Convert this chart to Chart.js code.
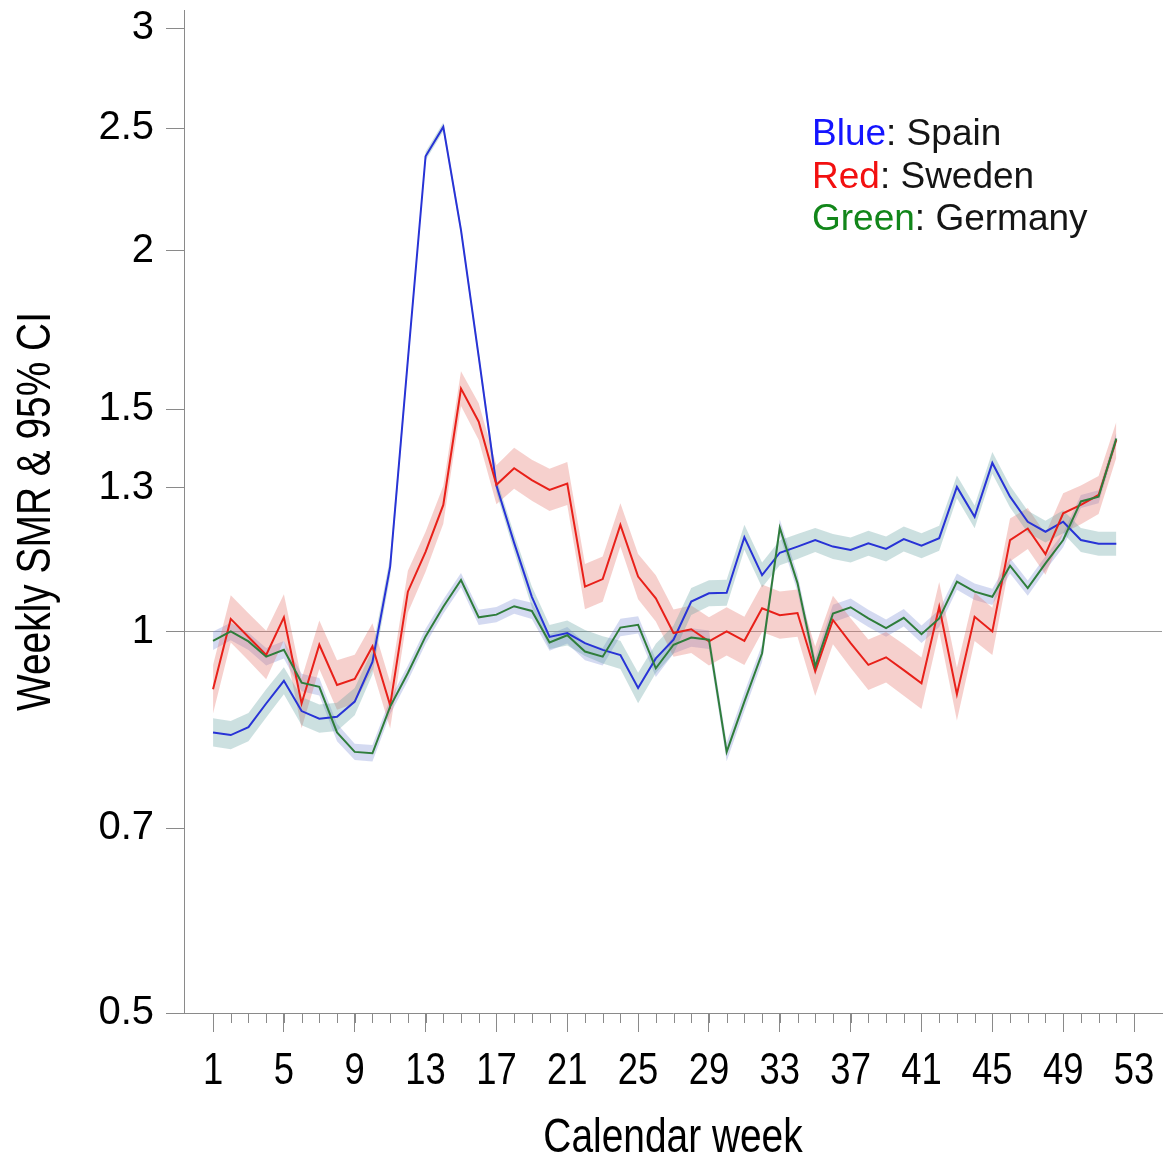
<!doctype html>
<html lang="en">
<head>
  <meta charset="UTF-8" />
  <title>Weekly SMR</title>
  <script src="https://cdn.jsdelivr.net/npm/chart.js"></script>
  <style>
    html, body { margin: 0; padding: 0; background: #fff; }
    #wrap { position: relative; width: 1175px; height: 1154px; }
    #legend {
      position: absolute; left: 812px; top: 112px;
      font: 37px "Liberation Sans", Arial, sans-serif; line-height: 42.5px; color: #151515;
      white-space: nowrap;
    }
  </style>
</head>
<body>
  <div id="wrap">
    <canvas id="smrChart" width="1175" height="1154"></canvas>
    <div id="legend"></div>
  </div>

  <script>
    // calendar weeks 1..52
    const weeks = [1,2,3,4,5,6,7,8,9,10,11,12,13,14,15,16,17,18,19,20,21,22,23,24,25,26,
      27,28,29,30,31,32,33,34,35,36,37,38,39,40,41,42,43,44,45,46,47,48,49,50,51,52];

    const spain = [0.833,0.829,0.841,0.878,0.915,0.866,0.854,0.857,0.881,0.947,
      1.126,1.64,2.376,2.506,2.077,1.65,1.305,1.176,1.066,0.991,
      0.998,0.980,0.968,0.959,0.903,0.953,0.986,1.057,1.073,1.074,
      1.188,1.109,1.155,1.168,1.182,1.168,1.161,1.175,1.163,1.184,
      1.170,1.186,1.302,1.233,1.360,1.279,1.222,1.200,1.222,1.182,1.174,1.174];
    const sweden = [0.901,1.024,0.991,0.959,1.027,0.878,0.977,0.908,0.918,0.974,
      0.875,1.076,1.157,1.26,1.557,1.466,1.307,1.347,1.318,1.295,
      1.31,1.086,1.101,1.215,1.106,1.063,0.998,1.005,0.983,1.001,
      0.984,1.044,1.031,1.035,0.931,1.022,0.980,0.942,0.955,0.933,
      0.911,1.047,0.893,1.028,1.001,1.182,1.207,1.152,1.241,1.26,1.283,1.418];
    const germany = [0.984,1.001,0.983,0.956,0.968,0.912,0.905,0.833,0.804,0.802,
      0.873,0.928,0.992,1.047,1.099,1.027,1.032,1.048,1.039,0.981,
      0.994,0.965,0.956,1.008,1.013,0.936,0.977,0.990,0.986,0.804,
      0.881,0.962,1.209,1.093,0.939,1.034,1.046,1.025,1.007,1.026,
      0.996,1.025,1.096,1.076,1.066,1.128,1.083,1.133,1.182,1.268,1.279,1.422];

    // 95% CI half-widths, percent of SMR
    const spainCI = [2.6,2.6,2.6,2.6,2.5,2.6,2.6,2.6,2.5,2.3,
      1.8,1.2,0.8,0.8,0.9,1.0,1.3,1.6,1.9,2.2,
      2.3,2.4,2.5,2.6,2.8,2.7,2.6,2.5,2.4,2.4,
      2.3,2.3,2.3,2.3,2.2,2.3,2.3,2.3,2.3,2.3,
      2.3,2.3,2.1,2.1,2.0,2.0,2.0,2.0,2.1,2.2,2.2,2.2];
    const swedenCI = [4.5,4.4,4.4,4.5,4.3,4.6,4.5,4.6,4.5,4.3,
      4.3,3.9,3.7,3.5,3.2,3.4,3.6,3.8,3.8,3.9,
      4.0,4.2,4.2,4.0,4.2,4.3,4.4,4.4,4.5,4.5,
      4.5,4.4,4.4,4.4,4.6,4.5,4.6,4.7,4.7,4.8,
      4.8,4.6,4.9,4.5,4.4,4.0,3.8,3.8,3.7,3.6,3.5,3.3];
    const germanyCI = [1.7,1.6,1.6,1.6,1.6,1.6,1.6,1.6,1.5,1.5,
      1.4,1.4,1.4,1.3,1.3,1.4,1.4,1.4,1.5,1.5,
      1.5,1.6,1.6,1.6,1.6,1.6,1.6,1.7,1.7,1.7,
      1.7,1.6,1.5,1.6,1.6,1.6,1.6,1.6,1.6,1.6,
      1.6,1.6,1.5,1.5,1.5,1.4,1.4,1.3,1.3,1.2,1.2,1.1];

    const xTickWeeks = [1,5,9,13,17,21,25,29,33,37,41,45,49,53];
    const yTickValues = [0.5,0.7,1,1.3,1.5,2,2.5,3];
    const yTickLabels = ["0.5","0.7","1","1.3","1.5","2","2.5","3"];
    const xTitle = "Calendar week";
    const yTitle = "Weekly SMR & 95% CI";

    const legendItems = [
      { word: "Blue", name: "Spain", color: "#1414ff" },
      { word: "Red", name: "Sweden", color: "#f21010" },
      { word: "Green", name: "Germany", color: "#12861a" },
    ];

    const axisGray = "#8a8a8a";
    const regular = "'Liberation Sans', Arial, sans-serif";
    const narrowScale = 0.81; // Liberation Sans squeezed to look like Helvetica Narrow

    document.getElementById("legend").innerHTML = legendItems
      .map((l) => `<div><span style="color:${l.color}">${l.word}</span>: ${l.name}</div>`)
      .join("");

    function pts(vals, ci, dir) {
      return vals.map((v, i) => ({ x: weeks[i], y: dir === 0 ? v : dir > 0 ? v * (1 + ci[i] / 100) : v / (1 + ci[i] / 100) }));
    }

    const series = [
      { name: "Spain", vals: spain, ci: spainCI, line: "#2833d6", band: "rgba(95,160,160,0.32)", order: 3 },
      { name: "Sweden", vals: sweden, ci: swedenCI, line: "#e82019", band: "rgba(228,110,100,0.32)", order: 2 },
      { name: "Germany", vals: germany, ci: germanyCI, line: "#2f7d3b", band: "rgba(120,140,210,0.32)", order: 1 },
    ];

    const datasets = [];
    series.forEach((s) => {
      datasets.push({ label: s.name + " lower", data: pts(s.vals, s.ci, -1), borderWidth: 0, pointRadius: 0, fill: false, order: 10 });
      datasets.push({ label: s.name + " upper", data: pts(s.vals, s.ci, 1), borderWidth: 0, pointRadius: 0, fill: "-1", backgroundColor: s.band, order: 10 });
      datasets.push({ label: s.name, data: pts(s.vals, s.ci, 0), borderColor: s.line, borderWidth: 2, pointRadius: 0, fill: false, tension: 0, order: s.order });
    });

    // minor week ticks, the bit of x axis left of the y axis, and the narrow-font texts
    const axisExtras = {
      id: "axisExtras",
      afterDraw(chart) {
        const xs = chart.scales.x;
        const ys = chart.scales.y;
        const ctx = chart.ctx;
        const y0 = xs.top;
        ctx.save();
        ctx.strokeStyle = axisGray;
        ctx.lineWidth = 1;
        ctx.beginPath();
        for (let w = 1; w <= 53; w++) {
          const px = Math.round(xs.getPixelForValue(w)) + 0.5;
          ctx.moveTo(px, y0);
          ctx.lineTo(px, y0 + 10);
        }
        ctx.moveTo(xs.getPixelForValue(-1.65), y0 + 0.5);
        ctx.lineTo(xs.left, y0 + 0.5);
        ctx.stroke();

        ctx.fillStyle = "#000";
        ctx.textAlign = "center";
        ctx.textBaseline = "alphabetic";

        // week labels
        ctx.font = "45px " + regular;
        xTickWeeks.forEach((w) => {
          ctx.save();
          ctx.translate(xs.getPixelForValue(w), y0 + 71);
          ctx.scale(narrowScale, 1);
          ctx.fillText(String(w), 0, 0);
          ctx.restore();
        });

        // axis titles
        ctx.font = "48px " + regular;
        ctx.save();
        ctx.translate((xs.left + xs.right) / 2, 1152);
        ctx.scale(narrowScale, 1);
        ctx.fillText(xTitle, 0, 0);
        ctx.restore();

        ctx.save();
        ctx.translate(50, (ys.top + ys.bottom) / 2);
        ctx.rotate(-Math.PI / 2);
        ctx.scale(narrowScale, 1);
        ctx.fillText(yTitle, 0, 0);
        ctx.restore();

        ctx.restore();
      },
    };

    new Chart(document.getElementById("smrChart"), {
      type: "line",
      data: { datasets },
      plugins: [axisExtras],
      options: {
        responsive: false,
        animation: false,
        layout: { padding: { top: 10, right: 13, left: 0, bottom: 0 } },
        plugins: {
          legend: { display: false },
          tooltip: { enabled: false },
          filler: { drawTime: "beforeDatasetsDraw" },
        },
        scales: {
          x: {
            type: "linear",
            min: -0.64,
            max: 54.58,
            afterBuildTicks: (s) => { s.ticks = xTickWeeks.map((v) => ({ value: v })); },
            afterFit: (s) => { s.height = 141; s.paddingLeft = 0; s.paddingRight = 0; },
            grid: { drawOnChartArea: false, tickLength: 19, color: axisGray, lineWidth: 1 },
            border: { color: axisGray, width: 1 },
            ticks: { display: false, autoSkip: false, maxRotation: 0 },
            title: { display: false },
          },
          y: {
            type: "logarithmic",
            min: 0.5,
            max: 3.1,
            afterBuildTicks: (s) => { s.ticks = yTickValues.map((v) => ({ value: v })); },
            afterFit: (s) => { s.width = 184; s.paddingTop = 0; s.paddingBottom = 0; },
            grid: {
              drawOnChartArea: true, tickLength: 18, lineWidth: 1,
              color: (c) => (c.tick && c.tick.value === 1 ? "#9a9a9a" : "rgba(0,0,0,0)"),
              tickColor: axisGray,
            },
            border: { color: axisGray, width: 1 },
            ticks: {
              padding: 12, color: "#000",
              font: { family: regular, size: 40 },
              callback: (v, i) => yTickLabels[i],
            },
            title: { display: false },
          },
        },
      },
    });
  </script>
</body>
</html>
